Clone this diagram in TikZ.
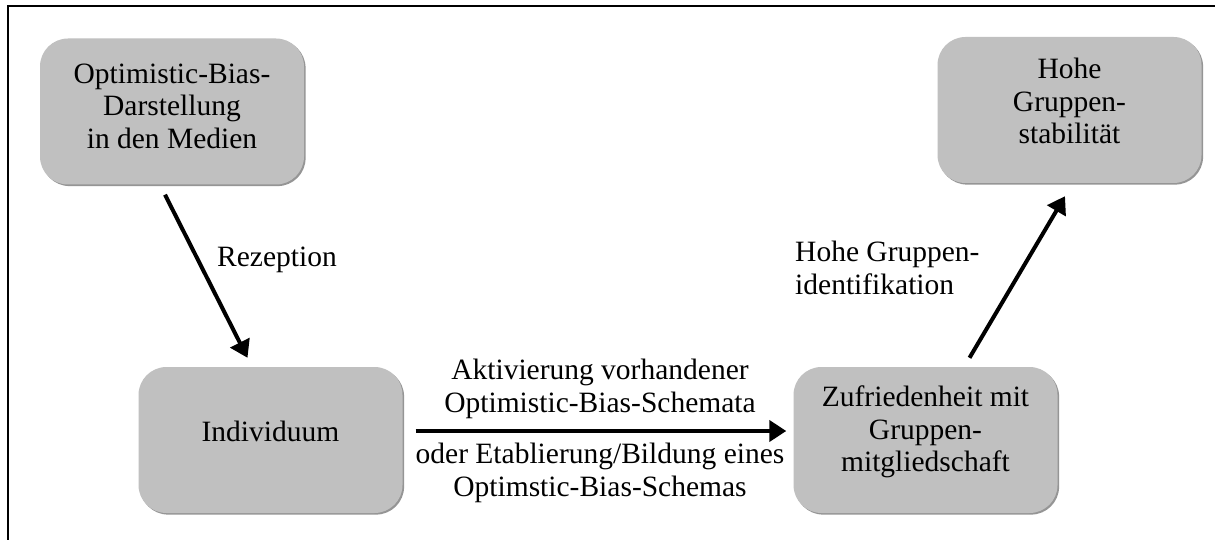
\documentclass[tikz,border=0pt]{standalone}
\usepackage{fontspec}
\setmainfont{Liberation Serif}
\usetikzlibrary{arrows.meta,shadows}

\definecolor{boxgray}{HTML}{C0C0C0}
\definecolor{shadegray}{HTML}{8A8A8A}

\begin{document}
\begin{tikzpicture}[x=1pt,y=-1pt,
  stagebox/.style={rectangle, rounded corners=28pt, fill=boxgray, draw=none,
    minimum width=264pt, minimum height=146pt, inner sep=0pt,
    drop shadow={shadow xshift=1.6pt, shadow yshift=-1.6pt, fill=shadegray, opacity=0.9}},
  txt/.style={font=\fontsize{29.5}{32.5}\selectfont, align=center, inner sep=0pt},
  flow/.style={line width=4pt, -{Triangle[length=17pt,width=21pt]}}]

  % canvas and frame
  \useasboundingbox (0,0) rectangle (1215,540);
  \fill[white] (0,0) rectangle (1215,540);
  \draw[line width=2pt] (8,540) -- (8,6) -- (1215,6);

  % stages
  \node[stagebox] (media)  at (172,111.5) {};
  \node[stagebox] (indiv)  at (270.5,440) {};
  \node[stagebox] (satis)  at (925.5,440) {};
  \node[stagebox] (stable) at (1069.5,110) {};

  \node[txt] (mediaT)  at (172,106)  {Optimistic-Bias-\\Darstellung\\in den Medien};
  \node[txt] (indivT)  at (270.5,431) {Individuum};
  \node[txt] (satisT)  at (925.5,432) {Zufriedenheit mit\\Gruppen-\\mitgliedschaft};
  \node[txt] (stableT) at (1069.5,101) {Hohe\\Gruppen-\\stabilität};

  % connector end points, kept clear of the boxes
  \coordinate (r1) at ([shift={(-7,10)}]media.south);
  \coordinate (r2) at ([shift={(-23,-9)}]indiv.north);
  \coordinate (h1) at ([shift={(13,-9)}]indiv.east);
  \coordinate (h2) at ([shift={(-7,-9)}]satis.west);
  \coordinate (g1) at ([shift={(44,-9)}]satis.north);
  \coordinate (g2) at ([shift={(-4.5,13)}]stable.south);

  \draw[flow] (r1) -- (r2);
  \draw[flow] (h1) -- (h2);
  \draw[flow] (g1) -- (g2);

  % connector labels
  \node[txt] (recep) at (277,260) {Rezeption};
  \node[txt] (actv)  at (600,389) {Aktivierung vorhandener\\Optimistic-Bias-Schemata};
  \node[txt] (estab) at (600,473) {oder Etablierung/Bildung eines\\Optimstic-Bias-Schemas};
  \node[txt, anchor=west, align=left] (ident) at (795,268) {Hohe Gruppen-\\identifikation};
\end{tikzpicture}
\end{document}
